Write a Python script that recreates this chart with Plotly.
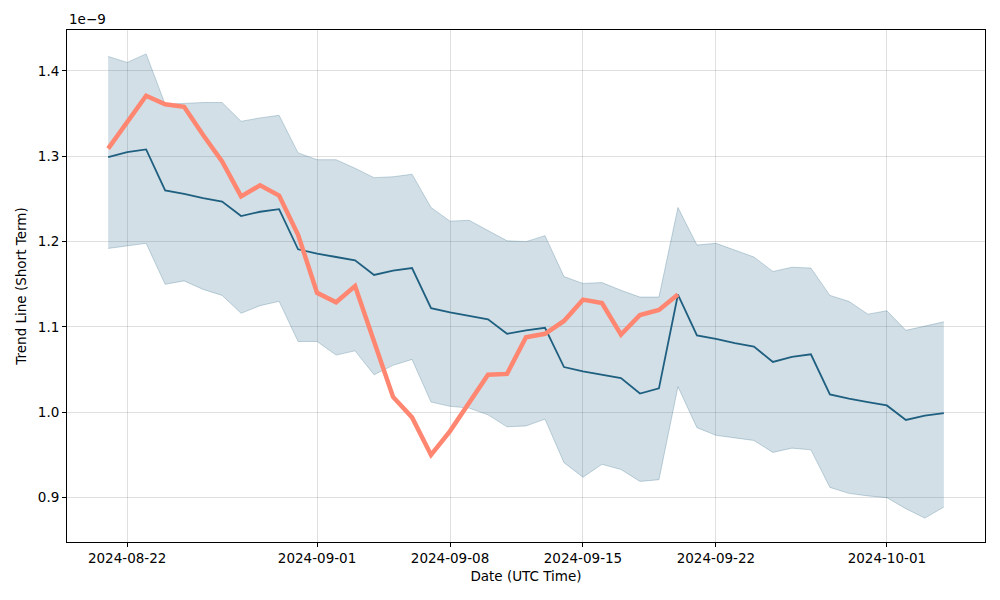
import pandas as pd
import plotly.graph_objects as go

dates = pd.date_range("2024-08-21", "2024-10-04", freq="D")

# values in units of 1e-9
trend_mean = [1.299, 1.305, 1.308, 1.260, 1.256, 1.251, 1.247, 1.230, 1.235, 1.238,
              1.191, 1.186, 1.182, 1.178, 1.161, 1.166, 1.169, 1.122, 1.117, 1.113,
              1.109, 1.092, 1.096, 1.099, 1.053, 1.048, 1.044, 1.040, 1.022, 1.028,
              1.138, 1.090, 1.086, 1.081, 1.077, 1.059, 1.065, 1.068, 1.021, 1.016,
              1.012, 1.008, 0.991, 0.996, 0.999]
band_upper = [1.417, 1.410, 1.420, 1.361, 1.362, 1.363, 1.363, 1.341, 1.345, 1.348,
              1.304, 1.296, 1.296, 1.286, 1.275, 1.276, 1.279, 1.240, 1.224, 1.225,
              1.213, 1.201, 1.200, 1.207, 1.159, 1.151, 1.152, 1.143, 1.135, 1.135,
              1.240, 1.196, 1.198, 1.190, 1.182, 1.165, 1.170, 1.169, 1.137, 1.130,
              1.115, 1.119, 1.096, 1.101, 1.106]
band_lower = [1.192, 1.195, 1.198, 1.150, 1.154, 1.144, 1.137, 1.116, 1.125, 1.130,
              1.083, 1.083, 1.067, 1.072, 1.044, 1.055, 1.062, 1.012, 1.007, 1.005,
              0.997, 0.983, 0.984, 0.992, 0.941, 0.924, 0.939, 0.933, 0.919, 0.921,
              1.030, 0.982, 0.973, 0.970, 0.967, 0.953, 0.958, 0.956, 0.912, 0.905,
              0.902, 0.900, 0.887, 0.876, 0.889]
price = [1.309, 1.340, 1.371, 1.361, 1.358, 1.325, 1.294, 1.253, 1.266, 1.254,
         1.208, 1.140, 1.129, 1.148, 1.083, 1.018, 0.994, 0.950, 0.978, 1.010,
         1.044, 1.045, 1.088, 1.092, 1.107, 1.132, 1.128, 1.091, 1.114, 1.120,
         1.138]
price_dates = dates[:len(price)]

ytick_vals = [0.9, 1.0, 1.1, 1.2, 1.3, 1.4]
ytick_text = ["0.9", "1.0", "1.1", "1.2", "1.3", "1.4"]
xtick_vals = ["2024-08-22", "2024-09-01", "2024-09-08", "2024-09-15", "2024-09-22", "2024-10-01"]

band_edge = "rgba(31,96,128,0.25)"
band_fill = "rgba(31,96,128,0.2)"
blue = "#1f5f80"
orange = "#ff8670"

fig = go.Figure()
fig.add_trace(go.Scatter(x=dates, y=band_upper, mode="lines",
                         line=dict(color=band_edge, width=1), showlegend=False))
fig.add_trace(go.Scatter(x=dates, y=band_lower, mode="lines",
                         line=dict(color=band_edge, width=1), fill="tonexty",
                         fillcolor=band_fill, showlegend=False))
fig.add_trace(go.Scatter(x=dates, y=trend_mean, mode="lines",
                         line=dict(color=blue, width=1.8), showlegend=False))
fig.add_trace(go.Scatter(x=price_dates, y=price, mode="lines",
                         line=dict(color=orange, width=4.5), showlegend=False))

font = dict(family="DejaVu Sans", size=13.5, color="black")
axis_common = dict(showline=True, linecolor="black", linewidth=1, mirror=True,
                   ticks="outside", ticklen=4, tickcolor="black", automargin=False,
                   showgrid=True, gridcolor="rgba(0,0,0,0.12)", gridwidth=1,
                   zeroline=False, tickfont=font)

fig.update_layout(
    width=1000, height=600,
    margin=dict(l=59, r=23, t=22, b=66),
    paper_bgcolor="white", plot_bgcolor="white",
    font=font,
    xaxis=dict(**axis_common, range=["2024-08-18 20:00", "2024-10-06 04:00"],
               tickvals=xtick_vals, ticktext=xtick_vals,
               title=dict(text="Date (UTC Time)", font=font, standoff=6)),
    yaxis=dict(**axis_common, range=[0.848, 1.448],
               tickvals=ytick_vals, ticktext=ytick_text,
               title=dict(text="Trend Line (Short Term)", font=font, standoff=8)),
    annotations=[dict(text="1e\u22129", xref="paper", yref="paper", x=0, y=1,
                      xanchor="left", yanchor="bottom", showarrow=False,
                      font=font, yshift=1)],
)

fig.write_html("out.html")
